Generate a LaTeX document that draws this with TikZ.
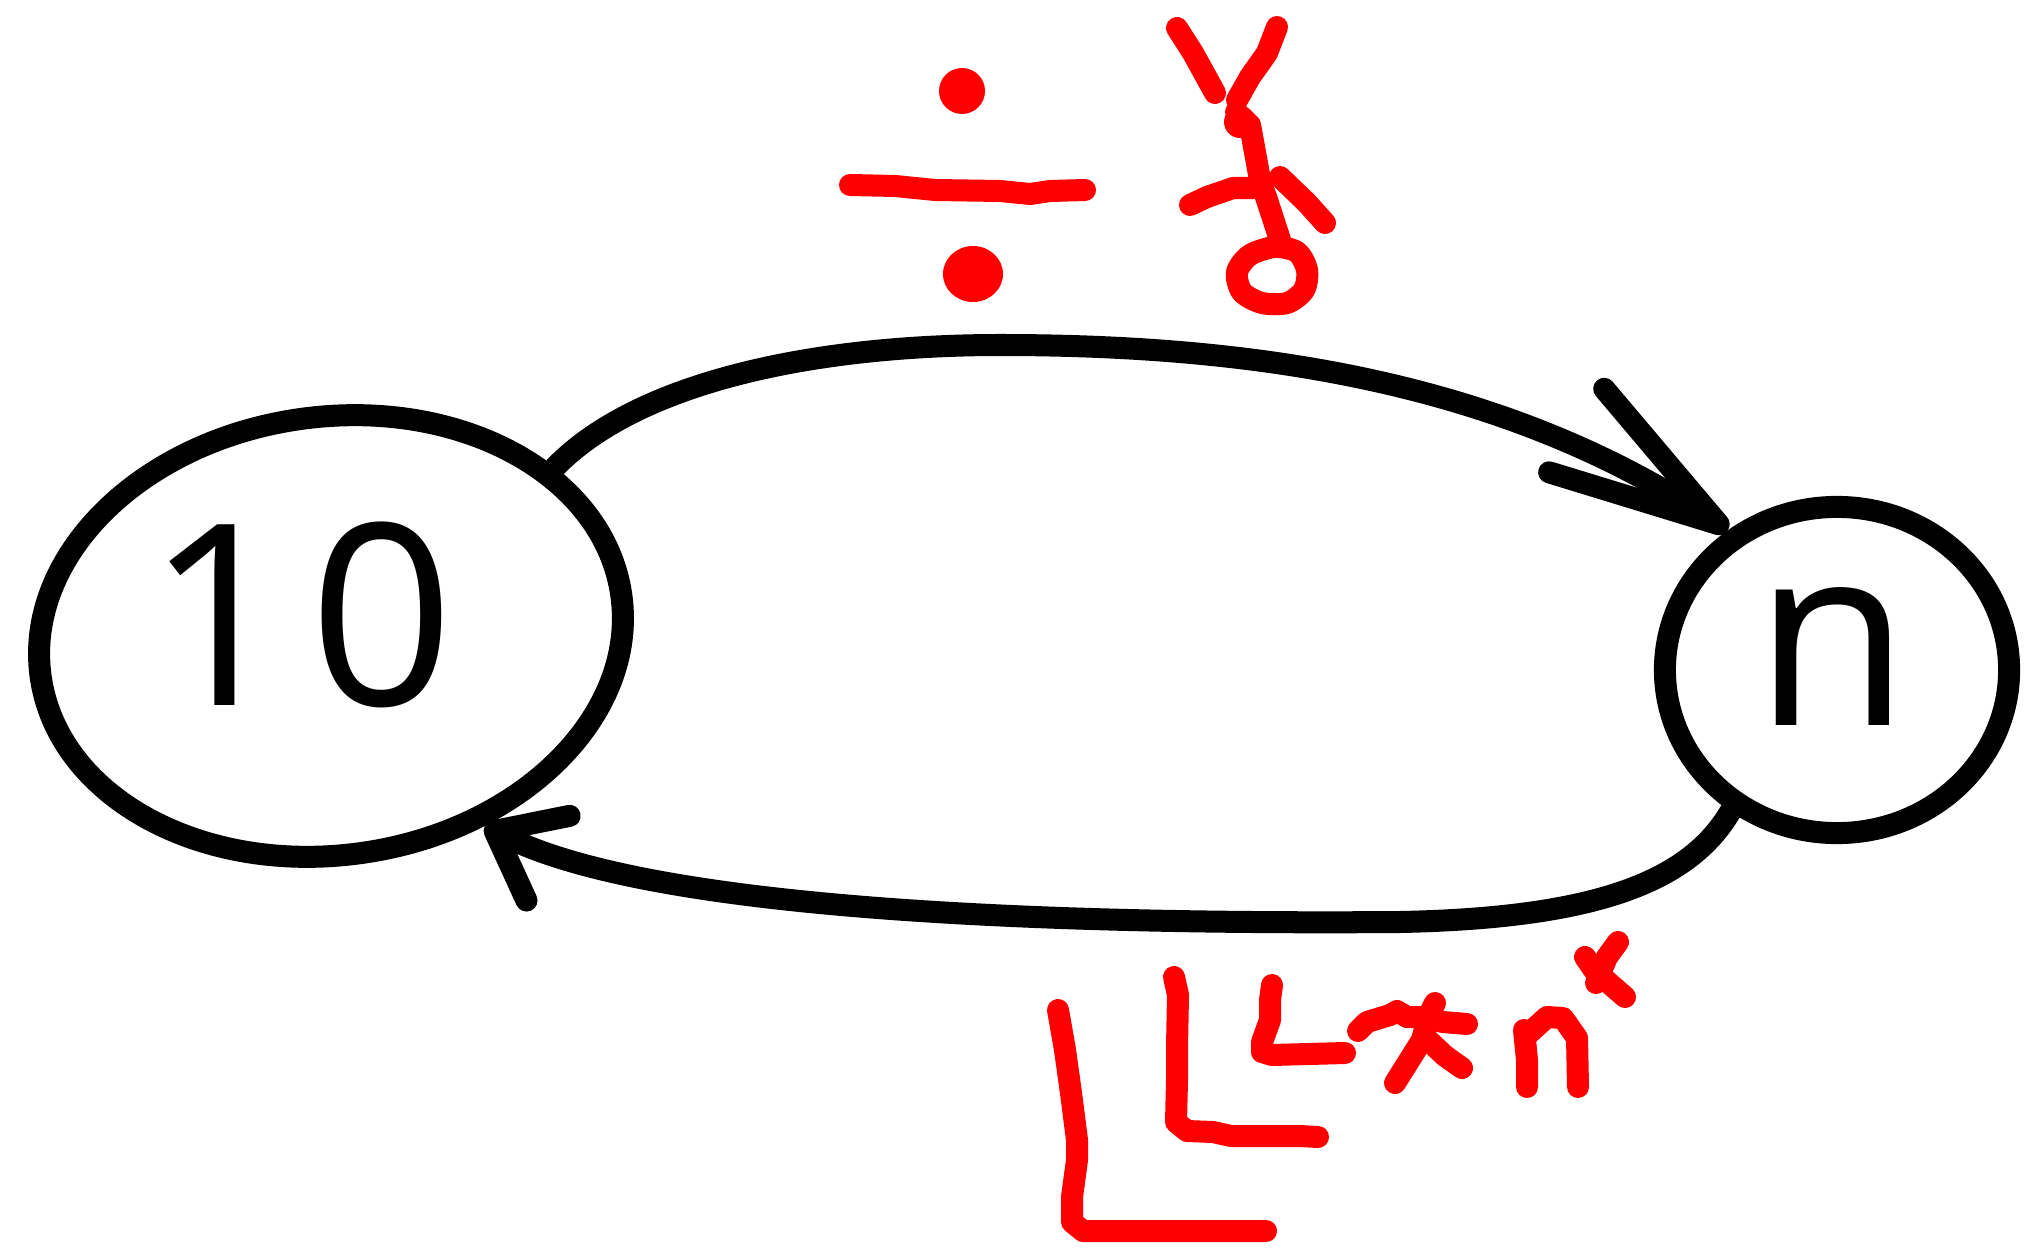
\documentclass[tikz,border=0pt]{standalone}
\usepackage{fontspec}
\setmainfont{Open Sans}
\usetikzlibrary{shapes.geometric,arrows.meta}
\begin{document}
\begin{tikzpicture}[
    x=0.01cm, y=-0.01cm,
    state/.style={ellipse, draw, line width=2.2mm, inner sep=0pt},
    digit/.style={font=\fontsize{72}{72}\selectfont, inner sep=0pt, anchor=base west},
    wire/.style={line width=2.2mm, line cap=round, line join=round},
    ink/.style={red, line width=2.2mm, line cap=round, line join=round}
  ]
  \useasboundingbox (0,0) rectangle (2028,1255);
  \node[state, minimum width=5.86cm, minimum height=4.38cm, rotate=8] (ten) at (331,636) {};
  \node[state, minimum width=3.44cm, minimum height=3.26cm] (en) at (1837,670) {};
  \node[digit] (tenlabel) at (146,705) {1\hspace{1.8mm}0};
  \node[digit] (enlabel) at (1754,725) {n};
  \draw[wire, -{Straight Barb[length=17mm, width=10mm, round]}]
    (ten.29) .. controls (640,380) and (820,345) .. (1000,345)
    .. controls (1250,345) and (1500,380) .. (en.128);
  \draw[wire, -{Straight Barb[length=6mm, width=9.5mm, round]}]
    (en.233) .. controls (1690,880) and (1600,918) .. (1400,922)
    .. controls (1000,925) and (640,905) .. (ten.-59);
  \fill[red] (962,91) circle[radius=23];
  \fill[red] (973,274) ellipse[x radius=30, y radius=28];
  \draw[ink] (850,185) -- (895,186) -- (935,190) -- (1000,191) -- (1030,194) -- (1050,191) -- (1085,190);
  \draw[ink] (1177,28) -- (1193,53) -- (1215,93);
  \draw[ink] (1277,27) -- (1267,53) -- (1250,77) -- (1237,100);
  \fill[red] (1240,122) circle[radius=16];
  \draw[ink] (1236,112) -- (1250,125) -- (1260,180) -- (1267,200) -- (1280,240);
  \draw[ink] plot[smooth cycle] coordinates {(1275,247) (1250,255) (1237,272) (1242,292) (1262,303) (1287,303) (1304,290) (1307,270) (1297,252)};
  \draw[ink] (1190,205) -- (1207,197) -- (1233,188) -- (1253,188);
  \draw[ink] (1280,177) -- (1307,203) -- (1325,223);
  \draw[ink] (1058,1010) -- (1065,1050) -- (1071,1093) -- (1077,1140) -- (1077,1160) -- (1072,1197) -- (1072,1222) -- (1083,1231) -- (1266,1231);
  \draw[ink] (1174,977) -- (1178,995) -- (1177,1047) -- (1177,1080) -- (1176,1122) -- (1187,1131) -- (1213,1132) -- (1231,1136) -- (1300,1136) -- (1318,1137);
  \draw[ink] (1272,985) -- (1270,1000) -- (1270,1020) -- (1262,1042) -- (1262,1052) -- (1272,1055) -- (1345,1053);
  \draw[ink] (1358,1031) -- (1367,1022) -- (1390,1015) -- (1397,1011) -- (1407,1017) -- (1420,1017) -- (1443,1022) -- (1467,1024);
  \draw[ink] (1435,1003) -- (1428,1017) -- (1422,1040) -- (1395,1083);
  \draw[ink] (1428,1040) -- (1445,1056) -- (1462,1068);
  \draw[ink] (1524,1030) -- (1527,1060) -- (1527,1087);
  \draw[ink] (1527,1035) -- (1547,1017) -- (1563,1018) -- (1577,1038) -- (1578,1087);
  \draw[ink] (1585,957) -- (1594,970) -- (1625,997);
  \draw[ink] (1618,942) -- (1607,957) -- (1596,983);
\end{tikzpicture}
\end{document}
